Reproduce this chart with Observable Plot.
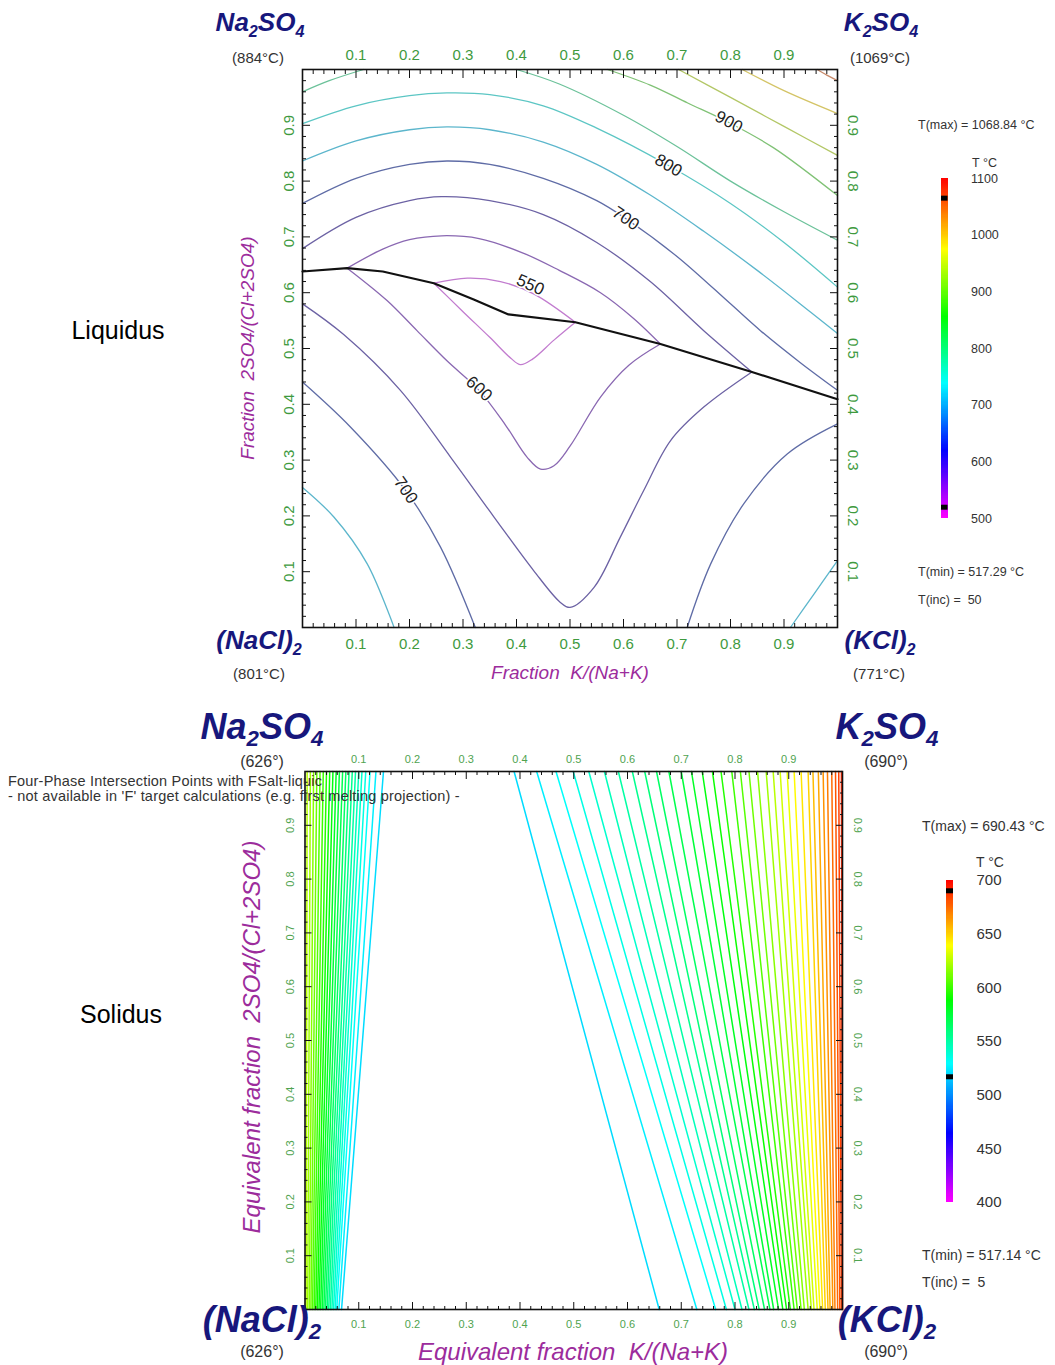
<!DOCTYPE html>
<html><head><meta charset="utf-8">
<script src="https://cdn.jsdelivr.net/npm/d3@7"></script>
<script src="https://cdn.jsdelivr.net/npm/@observablehq/plot@0.6"></script>
<style>
body{margin:0;background:#fff;font-family:Arial,"Liberation Sans",sans-serif;}
#root{position:relative;width:1055px;height:1365px;overflow:hidden;background:#fff;}
.abs{position:absolute;white-space:nowrap;line-height:1;}
.corner{font-weight:bold;font-style:italic;color:#17177c;}
.corner sub{font-size:0.62em;vertical-align:-0.32em;}
.temp{color:#333;}
.ttl{font-style:italic;color:#9c2c9c;}
.leg{color:#333;}
</style></head><body><div id="root"></div>
<script>
// ---------------- DATA ----------------
const tickValues = [0.1,0.2,0.3,0.4,0.5,0.6,0.7,0.8,0.9];

// Liquidus (top chart)
const liqLevels = [550,600,650,700,750,800,850,900,950,1000,1050];
const liqLineColors = ["#c27ccf","#8a68b2","#6c62a4","#5f6ca6","#5cb6cc","#5cc6c4","#6cc29a","#80c276","#b3c766","#d4c466","#c88a6a"];
const liqBoundary = [[0,0.638],[0.0835,0.644],[0.15,0.638],[0.2455,0.617],[0.32,0.588],[0.385,0.561],[0.51,0.547],[0.669,0.508],[0.84,0.458],[1,0.409]];
const c550 = [
  [[0.2455,0.617],[0.308,0.626],[0.37,0.620],[0.432,0.598],[0.51,0.547]],
  [[0.2455,0.617],[0.30,0.566],[0.35,0.52],[0.39,0.482],[0.4075,0.471],[0.43,0.481],[0.47,0.515],[0.51,0.547]]
];
const c600 = [
  [[0.0835,0.644],[0.15,0.678],[0.2,0.695],[0.26,0.702],[0.33,0.697],[0.41,0.672],[0.48,0.64],[0.557,0.6],[0.62,0.553],[0.669,0.508]],
  [[0.0835,0.644],[0.158,0.586],[0.214,0.532],[0.27,0.478],[0.33,0.425],[0.38,0.362],[0.42,0.305],[0.445,0.284],[0.47,0.29],[0.5,0.325],[0.557,0.413],[0.61,0.47],[0.669,0.508]]
];
const c650 = [
  [[0,0.679],[0.1,0.735],[0.2,0.765],[0.26,0.772],[0.35,0.765],[0.45,0.74],[0.55,0.69],[0.65,0.62],[0.75,0.532],[0.84,0.458]],
  [[0,0.58],[0.077,0.525],[0.183,0.425],[0.277,0.305],[0.358,0.198],[0.432,0.102],[0.482,0.045],[0.5,0.036],[0.545,0.072],[0.594,0.162],[0.638,0.246],[0.688,0.335],[0.75,0.395],[0.84,0.458]]
];
const c700 = [
  [[0,0.76],[0.1,0.805],[0.2,0.83],[0.27,0.836],[0.35,0.83],[0.45,0.805],[0.55,0.765],[0.604,0.733],[0.7,0.665],[0.8,0.58],[0.856,0.532],[0.93,0.475],[1,0.425]],
  [[0,0.44],[0.09,0.359],[0.193,0.2455],[0.258,0.144],[0.323,0]],
  [[0.719,0],[0.763,0.114],[0.825,0.222],[0.906,0.311],[1,0.365]]
];
const c750 = [
  [[0,0.836],[0.1,0.872],[0.2,0.892],[0.27,0.897],[0.35,0.892],[0.45,0.87],[0.55,0.83],[0.65,0.775],[0.75,0.71],[0.85,0.64],[0.95,0.565],[1,0.527]],
  [[0,0.251],[0.0586,0.198],[0.121,0.114],[0.171,0]],
  [[0.912,0],[0.956,0.06],[1,0.12]]
];
const c800 = [
  [[0,0.903],[0.1,0.935],[0.2,0.953],[0.27,0.958],[0.35,0.955],[0.45,0.935],[0.55,0.895],[0.684,0.828],[0.8,0.76],[0.9,0.69],[1,0.61]]
];
const c850 = [
  [[0,0.96],[0.05,0.98],[0.114,1]],
  [[0.40,1],[0.48,0.974],[0.6,0.918],[0.7,0.862],[0.8,0.8],[0.9,0.745],[1,0.694]]
];
const c900 = [[[0.57,1],[0.65,0.972],[0.72,0.94],[0.797,0.905],[0.88,0.86],[1,0.774]]];
const c950 = [[[0.703,1],[0.8,0.95],[0.9,0.898],[1,0.846]]];
const c1000 = [[[0.822,1],[0.9,0.962],[1,0.921]]];
const c1050 = [[[0.962,1],[0.98,0.99],[1,0.98]]];
const liqContours = [c550,c600,c650,c700,c750,c800,c850,c900,c950,c1000,c1050];

const liqLabelText = ["900","800","700","550","600","700"];
const liqLabelX = [0.797,0.684,0.604,0.426,0.33,0.193];
const liqLabelY = [0.906,0.828,0.733,0.614,0.428,0.246];
const liqLabelAngle = [28,30,35,24,42,55];

const liqTmax = 1068.84, liqTmin = 517.29, liqTinc = 50;
const liqBarTicks = [500,600,700,800,900,1000,1100];
const liqBarStops = [500,619,738,855,974,1100];

// Solidus (bottom chart)
const solLeftT = [625,620,615,610,605,600,595,590,585,580,575,570,565,560,555,550,545,540,535,530,525,520];
const solLeftTop = [0.004,0.010,0.016,0.022,0.028,0.034,0.040,0.046,0.052,0.058,0.064,0.070,0.076,0.082,0.088,0.094,0.100,0.106,0.113,0.121,0.132,0.146];
const solLeftBottom = [0.002,0.005,0.008,0.011,0.014,0.017,0.020,0.023,0.026,0.029,0.032,0.035,0.038,0.041,0.044,0.047,0.050,0.053,0.056,0.059,0.063,0.068];
const solRightT = [520,525,530,535,540,545,550,555,560,565,570,575,580,585,590,595,600,605,610,615,620,625,630,635,640,645,650,655,660,665,670,675,680,685,690];
const solRightTop = [0.389,0.431,0.467,0.499,0.528,0.557,0.583,0.609,0.632,0.654,0.677,0.700,0.719,0.739,0.758,0.774,0.794,0.810,0.826,0.842,0.858,0.871,0.884,0.897,0.910,0.923,0.936,0.945,0.955,0.964,0.972,0.980,0.987,0.993,0.998];
const solRightBottom = [0.659,0.729,0.764,0.784,0.800,0.813,0.826,0.836,0.845,0.855,0.865,0.872,0.881,0.889,0.896,0.903,0.910,0.916,0.923,0.929,0.936,0.942,0.947,0.953,0.958,0.963,0.968,0.973,0.977,0.982,0.986,0.991,0.995,0.998,1.0];

const solTmax = 690.43, solTmin = 517.14, solTinc = 5;
const solBarTicks = [400,450,500,550,600,650,700];
const solBarStops = [400,464,529,588,639,700];

const rainbow = ["#ff00ff","#0000ff","#00ffff","#00ff00","#ffff00","#ff0000"];

// ---------------- HELPERS ----------------
const root = document.getElementById("root");
const FONT = "Arial, 'Liberation Sans', sans-serif";
function put(html, x, y, cls, style, anchor){
  const d = document.createElement("div");
  d.className = "abs " + (cls||"");
  d.innerHTML = html;
  d.style.cssText += style || "";
  d.style.left = x + "px"; d.style.top = y + "px";
  d.style.transform = anchor || "translate(-50%,-50%)";
  root.appendChild(d);
  return d;
}
function place(svg, left, top){
  svg.style.position = "absolute";
  svg.style.left = left + "px";
  svg.style.top = top + "px";
  root.appendChild(svg);
}
const minorTicks = d3.range(1,50).map(i => i/50).filter(v => Math.round(v*50) % 5 !== 0);
function frameTicks(major, minorLen, o){
  const m = [];
  for (const a of ["top","bottom"]) {
    m.push(Plot.axisX(minorTicks,{anchor:a,tickSize:-minorLen,fill:"none",stroke:"#111",label:null}));
    m.push(Plot.axisX(tickValues,{anchor:a,tickSize:-major,fill:"none",stroke:"#111",label:null}));
  }
  for (const a of ["left","right"]) {
    m.push(Plot.axisY(minorTicks,{anchor:a,tickSize:-minorLen,fill:"none",stroke:"#111",label:null}));
    m.push(Plot.axisY(tickValues,{anchor:a,tickSize:-major,fill:"none",stroke:"#111",label:null}));
  }
  const f = d3.format(".1f");
  m.push(Plot.axisX(tickValues,{anchor:"top",tickSize:0,tickPadding:o.padTop,fontSize:o.fs,fill:o.color,stroke:"none",label:null,tickFormat:f}));
  m.push(Plot.axisX(tickValues,{anchor:"bottom",tickSize:0,tickPadding:o.padBottom,fontSize:o.fs,fill:o.color,stroke:"none",label:null,tickFormat:f}));
  m.push(Plot.axisY(tickValues,{anchor:"left",tickSize:0,tickPadding:o.padLeft,tickRotate:-90,fontSize:o.fs,fill:o.color,stroke:"none",label:null,tickFormat:f}));
  m.push(Plot.axisY(tickValues,{anchor:"right",tickSize:0,tickPadding:o.padRight,tickRotate:90,fontSize:o.fs,fill:o.color,stroke:"none",label:null,tickFormat:f}));
  return m;
}
function colorbar(o){
  const slices = d3.range(o.lo, o.hi, o.step);
  return Plot.plot({
    width:o.width, height:o.height, marginLeft:0, marginRight:o.width - o.barW,
    marginTop:o.mt, marginBottom:o.mb,
    y:{domain:[o.lo,o.hi]},
    color:{type:"linear", domain:o.stops, range:rainbow},
    style:{background:"transparent", fontFamily:FONT, overflow:"visible"},
    marks:[
      Plot.rect(slices,{y1:d=>d, y2:d=>d+o.step, fill:d=>d+o.step/2, shapeRendering:"crispEdges"}),
      Plot.tickY([o.tmax],{y:d=>d, stroke:"#000", strokeWidth:5, dy:o.dyMax}),
      Plot.tickY([o.tmin],{y:d=>d, stroke:"#000", strokeWidth:5, dy:o.dyMin}),
      Plot.axisY(o.ticks,{anchor:"right", tickSize:0, tickPadding:o.pad, fontSize:o.fs, fill:"#333", label:null, textAnchor:"start", tickFormat:d3.format("d")})
    ]
  });
}

// ---------------- TOP CHART (Liquidus) ----------------
const liqRows = [];
liqContours.forEach((segs, li) => segs.forEach((seg, si) => seg.forEach(([x,y]) =>
  liqRows.push({level: liqLevels[li], id: liqLevels[li] + "-" + si, x, y}))));
const labelIdx = d3.range(liqLabelText.length);

const topPlot = Plot.plot({
  width:700, height:690, marginLeft:102, marginRight:63, marginTop:69, marginBottom:63,
  x:{domain:[0,1]}, y:{domain:[0,1]},
  color:{type:"ordinal", domain:liqLevels, range:liqLineColors},
  style:{background:"transparent", fontFamily:FONT, overflow:"visible"},
  marks:[
    Plot.line(liqRows,{x:"x",y:"y",z:"id",stroke:"level",strokeWidth:1.3,curve:"catmull-rom"}),
    Plot.line(liqBoundary,{stroke:"#111",strokeWidth:2.2}),
    Plot.text(labelIdx,{x:i=>liqLabelX[i], y:i=>liqLabelY[i], text:i=>liqLabelText[i], rotate:i=>liqLabelAngle[i], fontSize:17, fill:"#222", stroke:"#fff", strokeWidth:3}),
    Plot.frame({stroke:"#111", strokeWidth:1.6}),
    ...frameTicks(8, 4, {fs:15, color:"#3e9a3e", padTop:10, padBottom:11, padLeft:9, padRight:21})
  ]
});
place(topPlot, 200, 0);

// ---------------- BOTTOM CHART (Solidus) ----------------
const solRows = [];
solLeftT.forEach((t,i) => { solRows.push({T:t, id:"L"+i, x:solLeftBottom[i], y:0}); solRows.push({T:t, id:"L"+i, x:solLeftTop[i], y:1}); });
solRightT.forEach((t,i) => { solRows.push({T:t, id:"R"+i, x:solRightBottom[i], y:0}); solRows.push({T:t, id:"R"+i, x:solRightTop[i], y:1}); });

const botPlot = Plot.plot({
  width:720, height:665, marginLeft:104.5, marginRight:78, marginTop:71, marginBottom:56,
  x:{domain:[0,1]}, y:{domain:[0,1]},
  color:{type:"linear", domain:solBarStops, range:rainbow},
  style:{background:"transparent", fontFamily:FONT, overflow:"visible"},
  marks:[
    Plot.line(solRows,{x:"x",y:"y",z:"id",stroke:"T",strokeWidth:1.5}),
    Plot.frame({stroke:"#111", strokeWidth:1.6}),
    ...frameTicks(7, 3, {fs:11, color:"#4fa34f", padTop:9, padBottom:11, padLeft:11, padRight:19})
  ]
});
place(botPlot, 200, 700);

// ---------------- COLORBARS ----------------
place(colorbar({lo:500, hi:1100, step:2, stops:liqBarStops, ticks:liqBarTicks, tmax:liqTmax, tmin:liqTmin,
  width:80, height:390, barW:6.5, mt:28, mb:22, fs:12.5, pad:23, dyMax:2, dyMin:-1.5}), 940.5, 150);
place(colorbar({lo:400, hi:700, step:1, stops:solBarStops, ticks:solBarTicks, tmax:solTmax, tmin:solTmin,
  width:80, height:380, barW:7, mt:30, mb:28, fs:15, pad:23, dyMax:0, dyMin:0}), 945.5, 850);

// ---------------- TEXT ----------------
// top chart
put("Na<sub>2</sub>SO<sub>4</sub>", 260, 24, "corner", "font-size:26px;");
put("K<sub>2</sub>SO<sub>4</sub>", 881, 24, "corner", "font-size:26px;");
put("(NaCl)<sub>2</sub>", 259, 642, "corner", "font-size:26px;");
put("(KCl)<sub>2</sub>", 880, 642, "corner", "font-size:26px;");
put("(884°C)", 258, 57, "temp", "font-size:15px;");
put("(1069°C)", 880, 57, "temp", "font-size:15px;");
put("(801°C)", 259, 673, "temp", "font-size:15px;");
put("(771°C)", 879, 673, "temp", "font-size:15px;");
put("Fraction&nbsp;&nbsp;K/(Na+K)", 570, 672, "ttl", "font-size:19px;");
put("Fraction&nbsp;&nbsp;2SO4/(Cl+2SO4)", 247, 348, "ttl", "font-size:19px;", "translate(-50%,-50%) rotate(-90deg)");
put("Liquidus", 118, 330, "", "font-size:25px;color:#000;");
put("T(max) = " + liqTmax + " °C", 918, 125, "leg", "font-size:12.5px;", "translate(0,-50%)");
put("T °C", 972, 163, "leg", "font-size:12.5px;", "translate(0,-50%)");
put("T(min) = " + liqTmin + " °C", 918, 572, "leg", "font-size:12.5px;", "translate(0,-50%)");
put("T(inc) =&nbsp;&nbsp;" + liqTinc, 918, 600, "leg", "font-size:12.5px;", "translate(0,-50%)");

// bottom chart
put("Na<sub>2</sub>SO<sub>4</sub>", 262, 730, "corner", "font-size:36px;");
put("K<sub>2</sub>SO<sub>4</sub>", 887, 730, "corner", "font-size:36px;");
put("(NaCl)<sub>2</sub>", 262, 1323, "corner", "font-size:36px;");
put("(KCl)<sub>2</sub>", 887, 1323, "corner", "font-size:36px;");
put("(626°)", 262, 762, "temp", "font-size:16px;");
put("(690°)", 886, 762, "temp", "font-size:16px;");
put("(626°)", 262, 1352, "temp", "font-size:16px;");
put("(690°)", 886, 1352, "temp", "font-size:16px;");
put("Equivalent fraction&nbsp;&nbsp;K/(Na+K)", 573, 1352, "ttl", "font-size:24px;");
put("Equivalent fraction&nbsp;&nbsp;2SO4/(Cl+2SO4)", 252, 1037, "ttl", "font-size:24px;", "translate(-50%,-50%) rotate(-90deg)");
put("Solidus", 121, 1014, "", "font-size:25px;color:#000;");
put("Four-Phase Intersection Points with FSalt-liquic", 8, 781, "leg", "font-size:14.5px;letter-spacing:0.2px;", "translate(0,-50%)");
put("- not available in 'F' target calculations (e.g. first melting projection) -", 8, 795.5, "leg", "font-size:14.5px;letter-spacing:0.2px;", "translate(0,-50%)");
put("T(max) = " + solTmax + " °C", 922, 826, "leg", "font-size:14px;", "translate(0,-50%)");
put("T °C", 976, 862, "leg", "font-size:14px;", "translate(0,-50%)");
put("T(min) = " + solTmin + " °C", 922, 1255, "leg", "font-size:14px;", "translate(0,-50%)");
put("T(inc) =&nbsp;&nbsp;" + solTinc, 922, 1282, "leg", "font-size:14px;", "translate(0,-50%)");
</script></body></html>
